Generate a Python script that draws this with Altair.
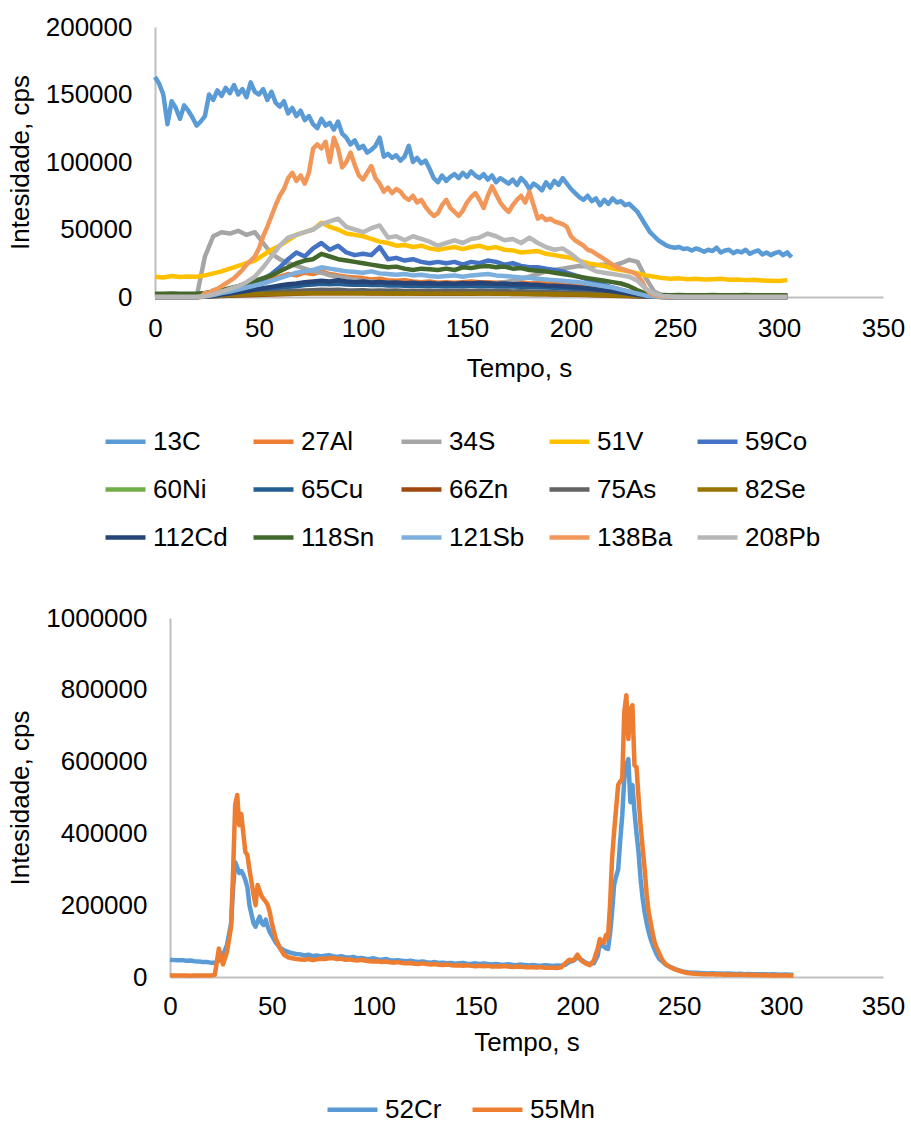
import altair as alt
import pandas as pd

FONT = "Liberation Sans"
FS = 26

# ---------------- upper panel: 15 isotopes, intensity vs time ----------------
TOP_NAMES = ["13C", "27Al", "34S", "51V", "59Co", "60Ni", "65Cu", "66Zn",
             "75As", "82Se", "112Cd", "118Sn", "121Sb", "138Ba", "208Pb"]
TOP_COLORS = ["#5B9BD5", "#ED7D31", "#A5A5A5", "#FFC000", "#4472C4", "#70AD47",
              "#255E91", "#9E480E", "#636363", "#997300", "#264478", "#43682B",
              "#7CAFDD", "#F1975A", "#B7B7B7"]

FINE_STEP = 2    # s between readings for 13C and 138Ba
COARSE_STEP = 4  # s between readings for the other isotopes

C13 = [163000, 158000, 150000, 128000, 145000, 140000, 132000, 142000, 138000, 133000,
       127000, 130000, 134000, 150000, 146000, 153000, 149000, 155000, 151000, 157000,
       150000, 154000, 148000, 159000, 152000, 150000, 154000, 146000, 152000, 144000,
       141000, 145000, 136000, 140000, 134000, 138000, 131000, 134000, 128000, 125000,
       132000, 127000, 129000, 124000, 130000, 121000, 118000, 113000, 116000, 110000,
       112000, 107000, 109000, 112000, 118000, 104000, 106000, 103000, 105000, 101000,
       104000, 112000, 100000, 103000, 99000, 101000, 95000, 88000, 85000, 90000,
       86000, 89000, 91000, 88000, 92000, 89000, 93000, 90000, 88000, 91000,
       87000, 90000, 85000, 88000, 86000, 84000, 87000, 83000, 88000, 85000,
       80000, 84000, 82000, 79000, 85000, 81000, 86000, 83000, 88000, 84000,
       80000, 77000, 74000, 72000, 75000, 71000, 73000, 68000, 72000, 69000,
       73000, 70000, 71000, 68000, 69000, 66000, 63000, 58000, 53000, 48000,
       45000, 42000, 40000, 38000, 37000, 36500, 37000, 35500, 36000, 34500,
       36000, 35000, 33500, 35000, 34000, 36500, 33000, 34500, 35000, 32500,
       34000, 33000, 35000, 32000, 33500, 34500, 31500, 33000, 31000, 32500,
       33500, 31000, 33000, 29500]

BA138 = [0, 0, 0, 0, 0, 0, 0, 0, 0, 0,
         0, 0, 3000, 3000, 5000, 6000, 8000, 10000, 12000, 14000,
         17000, 20000, 24000, 27000, 30000, 36000, 45000, 52000, 60000, 68000,
         75000, 80000, 88000, 92000, 86000, 90000, 84000, 92000, 110000, 113000,
         110000, 115000, 100000, 118000, 110000, 96000, 100000, 107000, 98000, 90000,
         87000, 92000, 97000, 88000, 84000, 78000, 81000, 77000, 80000, 78000,
         74000, 72000, 75000, 70000, 72000, 67000, 63000, 60000, 62000, 68000,
         72000, 66000, 63000, 60000, 64000, 70000, 74000, 77000, 72000, 66000,
         75000, 82000, 76000, 70000, 66000, 63000, 68000, 72000, 75000, 70000,
         78000, 68000, 58000, 60000, 57000, 58000, 56000, 55000, 54000, 52000,
         45000, 42000, 40000, 38000, 35000, 34000, 32000, 30000, 28000, 26000,
         24000, 22000, 21000, 20000, 19000, 18000, 16000, 12000, 6000, 3000,
         1500, 800, 400, 200, 0, 0, 0, 0, 0, 0,
         0, 0, 0, 0, 0, 0, 0, 0, 0, 0,
         0, 0, 0, 0, 0, 0, 0, 0, 0, 0,
         0, 0, 0]

V51 = [15000, 14500, 15500, 14800, 15200, 15000, 16000, 17500, 19000, 21000,
       23000, 25000, 27000, 31000, 35000, 38000, 42000, 46000, 48000, 50000,
       55000, 52000, 50000, 47000, 46000, 45000, 43000, 41000, 40000, 38000,
       38500, 37000, 38000, 36000, 35000, 36000, 37000, 35500, 37000, 38000,
       36000, 37000, 35000, 34500, 33000, 33500, 34000, 32000, 31000, 30000,
       29000, 27000, 25000, 24000, 23000, 21000, 20000, 19000, 17500, 16000,
       15000, 14000, 13500, 13800, 13200, 13500, 13000, 13200, 13500, 12800,
       13000, 12500, 12700, 12300, 12000, 11800, 12500]

PB208 = [0, 0, 0, 0, 0, 0, 500, 2000, 4000, 6000,
         8000, 11000, 15000, 22000, 30000, 38000, 44000, 46000, 48000, 50000,
         54000, 56000, 58000, 52000, 50000, 48000, 51000, 53000, 44000, 45000,
         42000, 45000, 43000, 41000, 38000, 40000, 42000, 40000, 43000, 44000,
         47000, 45000, 42000, 43000, 40000, 44000, 40000, 37000, 35000, 36000,
         32000, 27000, 22000, 19000, 18000, 17000, 16000, 15000, 12000, 6000,
         2500, 800, 300, 0, 0, 0, 0, 0, 0, 0,
         0, 0, 0, 0, 0, 0, 0]

S34 = [0, 0, 0, 0, 0, 0, 30000, 45000, 48000, 47000,
       49000, 46000, 48000, 40000, 32000, 28000, 25000, 23000, 21000, 19000,
       18000, 16000, 15000, 14000, 13000, 12000, 11500, 11000, 10500, 10000,
       9500, 9000, 9000, 8500, 8500, 8000, 8500, 8000, 8500, 9000,
       9500, 10000, 11000, 12000, 13500, 15000, 17000, 19000, 20000, 21000,
       22000, 23000, 22500, 23500, 24000, 23000, 25000, 27500, 26000, 14000,
       4000, 1000, 300, 0, 0, 0, 0, 0, 0, 0,
       0, 0, 0, 0, 0, 0, 0]

CO59 = [0, 0, 0, 0, 0, 0, 500, 1500, 3000, 4500,
        6000, 8000, 10000, 13000, 17000, 22000, 28000, 33000, 30000, 36000,
        40000, 35000, 38000, 33000, 31000, 32000, 31000, 37000, 28000, 29000,
        27000, 28000, 26000, 25000, 26000, 25000, 26000, 24000, 26000, 25000,
        27000, 26000, 24000, 25000, 23000, 22000, 22000, 21000, 20000, 19000,
        17000, 15000, 13000, 11000, 9000, 7000, 5000, 3500, 2000, 1000,
        300, 0, 0, 0, 0, 0, 0, 0, 0, 0,
        0, 0, 0, 0, 0, 0, 0]

SN118 = [2500, 2400, 2600, 2500, 2500, 2400, 3000, 4000, 5000, 6500,
         8000, 10000, 12000, 14000, 16000, 19000, 22000, 25000, 27000, 28000,
         32000, 30000, 28000, 27000, 26000, 25000, 24000, 23000, 22000, 22500,
         21000, 20000, 21000, 20500, 20000, 21000, 20000, 22000, 21500, 22500,
         23000, 22000, 22500, 21000, 21500, 20000, 19500, 19000, 18000, 17000,
         16000, 15000, 14000, 13000, 12000, 11000, 10000, 8000, 5000, 2500,
         1500, 1400, 1300, 1400, 1300, 1350, 1300, 1400, 1300, 1350,
         1300, 1400, 1300, 1250, 1350, 1300, 1300]

SB121 = [0, 0, 0, 0, 0, 0, 500, 1500, 3000, 4000,
         5500, 7000, 8500, 10000, 12000, 14000, 16000, 18000, 19000, 20000,
         22000, 21000, 20000, 19000, 18500, 18000, 19000, 17500, 17000, 16500,
         17000, 16000, 16500, 15500, 15000, 15500, 16000, 15000, 16000, 16500,
         17000, 16000, 15500, 15000, 14500, 14000, 13500, 13000, 12500, 12000,
         11500, 11000, 10000, 9000, 8000, 7000, 5500, 4000, 2500, 1000,
         400, 0, 0, 0, 0, 0, 0, 0, 0, 0,
         0, 0, 0, 0, 0, 0, 0]

AL27 = [0, 0, 0, 0, 0, 0, 500, 1500, 3000, 4000,
        5500, 7000, 9000, 11000, 13000, 15000, 17000, 16000, 18000, 17000,
        19000, 17000, 16000, 15000, 14500, 14000, 13000, 13500, 12500, 12000,
        12500, 11500, 11000, 11500, 10500, 11000, 10500, 11000, 11500, 11000,
        11000, 10500, 11000, 10500, 11000, 10000, 10500, 10000, 9500, 10000,
        9000, 9500, 9000, 8500, 8000, 7000, 5500, 4000, 2500, 1200,
        500, 0, 0, 0, 0, 0, 0, 0, 0, 0,
        0, 0, 0, 0, 0, 0, 0]

CU65 = [0, 0, 0, 0, 0, 0, 300, 800, 1500, 2200,
        3000, 3800, 4500, 5200, 6000, 6800, 7500, 8000, 8800, 9200,
        9800, 9500, 9800, 9300, 9000, 9200, 8800, 9000, 8500, 8700,
        8300, 8500, 8100, 8300, 8000, 8200, 7900, 8100, 8300, 8000,
        8200, 7800, 8000, 7700, 7500, 7600, 7200, 7000, 6800, 6500,
        6200, 5800, 5400, 5000, 4500, 3800, 3000, 2200, 1400, 700,
        300, 100, 0, 0, 0, 0, 0, 0, 0, 0,
        0, 0, 0, 0, 0, 0, 0]

CD112 = [0, 0, 0, 0, 0, 0, 400, 1000, 1800, 2600,
         3500, 4500, 5500, 6500, 7500, 8500, 9500, 10000, 11000, 11500,
         12000, 11500, 12500, 11500, 11000, 11500, 10800, 11200, 10500, 10800,
         10200, 10600, 10000, 10300, 9800, 10200, 9900, 10400, 10000, 10500,
         10200, 9800, 10000, 9500, 9700, 9200, 9000, 8600, 8400, 8000,
         7600, 7000, 6500, 5800, 5000, 4200, 3300, 2400, 1500, 800,
         300, 100, 0, 0, 0, 0, 0, 0, 0, 0,
         0, 0, 0, 0, 0, 0, 0]

AS75 = [0, 0, 0, 0, 0, 0, 200, 500, 900, 1300,
        1700, 2100, 2500, 3000, 3400, 3800, 4200, 4500, 4800, 5000,
        5300, 5100, 5400, 5000, 4800, 5000, 4700, 4900, 4600, 4800,
        4500, 4700, 4400, 4600, 4300, 4500, 4400, 4600, 4400, 4700,
        4500, 4300, 4400, 4100, 4200, 4000, 3900, 3700, 3600, 3400,
        3200, 3000, 2700, 2400, 2100, 1800, 1400, 1000, 600, 300,
        100, 0, 0, 0, 0, 0, 0, 0, 0, 0,
        0, 0, 0, 0, 0, 0, 0]

ZN66 = [200, 250, 200, 220, 180, 200, 300, 500, 700, 900,
        1100, 1300, 1500, 1700, 1900, 2100, 2300, 2400, 2600, 2700,
        2900, 2800, 3000, 2800, 2700, 2800, 2600, 2700, 2500, 2600,
        2500, 2600, 2400, 2500, 2400, 2500, 2400, 2500, 2400, 2600,
        2500, 2400, 2400, 2300, 2300, 2200, 2100, 2000, 1900, 1800,
        1700, 1600, 1400, 1300, 1100, 900, 700, 500, 350, 250,
        200, 200, 220, 180, 200, 210, 190, 200, 220, 200,
        190, 200, 210, 200, 190, 200, 210]

SE82 = [800, 900, 850, 800, 900, 850, 900, 1100, 1300, 1500,
        1700, 1900, 2000, 2200, 2300, 2400, 2500, 2600, 2700, 2800,
        2900, 2800, 2900, 2800, 2700, 2800, 2700, 2800, 2600, 2700,
        2600, 2700, 2600, 2500, 2600, 2500, 2600, 2500, 2600, 2500,
        2600, 2500, 2400, 2500, 2400, 2300, 2300, 2200, 2100, 2000,
        1900, 1800, 1700, 1500, 1400, 1200, 1100, 1000, 900, 850,
        800, 800, 820, 780, 800, 810, 790, 800, 820, 800,
        790, 800, 810, 800, 790, 800, 810]

NI60 = [1400, 1500, 1450, 1500, 1400, 1450, 1500, 1700, 1900, 2100,
        2300, 2500, 2700, 2900, 3100, 3300, 3500, 3600, 3700, 3800,
        4000, 3900, 4000, 3800, 3700, 3800, 3600, 3700, 3500, 3600,
        3500, 3400, 3500, 3300, 3400, 3300, 3400, 3300, 3400, 3300,
        3400, 3200, 3300, 3100, 3200, 3000, 2900, 2800, 2700, 2600,
        2400, 2300, 2100, 2000, 1800, 1700, 1600, 1500, 1400, 1300,
        1300, 1200, 1250, 1200, 1150, 1200, 1250, 1200, 1150, 1200,
        1200, 1250, 1200, 1150, 1200, 1250, 1200]

TOP_SERIES = [
    ("13C", C13, FINE_STEP), ("27Al", AL27, COARSE_STEP), ("34S", S34, COARSE_STEP),
    ("51V", V51, COARSE_STEP), ("59Co", CO59, COARSE_STEP), ("60Ni", NI60, COARSE_STEP),
    ("65Cu", CU65, COARSE_STEP), ("66Zn", ZN66, COARSE_STEP), ("75As", AS75, COARSE_STEP),
    ("82Se", SE82, COARSE_STEP), ("112Cd", CD112, COARSE_STEP), ("118Sn", SN118, COARSE_STEP),
    ("121Sb", SB121, COARSE_STEP), ("138Ba", BA138, FINE_STEP), ("208Pb", PB208, COARSE_STEP),
]

# ---------------- lower panel: 52Cr and 55Mn ----------------
BOT_NAMES = ["52Cr", "55Mn"]
BOT_COLORS = ["#5B9BD5", "#ED7D31"]

# readings are denser around the two ablation peaks
BOT_T = (list(range(0, 30, 2)) + list(range(30, 50)) + list(range(50, 210, 2))
         + list(range(210, 245)) + list(range(246, 307, 2)))

CR52 = [48000, 47000, 46500, 47000, 45500, 46000, 44000, 43500, 42000, 41500, 40000, 39500, 45000, 60000, 90000,
        150000, 250000, 320000, 305000, 290000, 295000, 285000, 270000, 250000, 200000,
        175000, 150000, 140000, 155000, 168000, 150000, 145000, 160000, 140000, 125000,
        115000, 95000, 82000, 74000, 70000, 66000, 64000, 63000, 60000, 62000,
        58000, 60000, 57000, 59000, 61000, 58000, 56000, 58000, 55000, 54000,
        56000, 52000, 53000, 51000, 50000, 52000, 49000, 48000, 50000, 47000,
        46000, 47000, 45000, 44000, 45500, 43000, 42000, 43000, 41000, 40000,
        41500, 39000, 40000, 38500, 39000, 37000, 38000, 39000, 36500, 37000,
        38000, 36000, 37500, 36000, 35000, 36500, 35000, 34000, 35500, 34000,
        33000, 35000, 33500, 32000, 33500, 32000, 31500, 33000, 32000, 31000,
        32000, 31500, 34000, 42000, 45000, 55000, 48000, 40000, 36000, 38000,
        60000, 95000, 90000, 85000, 80000, 78000, 120000, 180000, 256000, 280000,
        300000, 380000, 450000, 552000, 590000, 607000, 487000, 535000, 460000, 400000,
        348000, 273000, 220000, 180000, 150000, 125000, 105000, 89000, 75000, 62000,
        52000, 46000, 42000, 36000, 32000,
        27000, 22000, 18000, 15000, 13000, 12000, 11500, 11000, 10500, 10000,
        10500, 9500, 10000, 9000, 9500, 9000, 8500, 9000, 8000, 8500,
        8000, 7500, 8000, 7500, 7000, 7500, 7000, 6500, 7000, 6500, 6000]

MN55 = [4000, 4500, 4000, 4200, 4000, 3800, 4100, 4000, 3900, 4000, 4200, 6000, 79000, 35000, 70000,
        140000, 300000, 480000, 507000, 423000, 454000, 400000, 348000, 340000, 300000,
        265000, 230000, 200000, 256000, 240000, 225000, 217000, 210000, 200000, 180000,
        150000, 105000, 80000, 62000, 55000, 52000, 50000, 49000, 48000, 50000,
        47000, 49000, 51000, 50000, 52000, 53000, 50000, 51000, 48000, 49000,
        47000, 46000, 48000, 45000, 44000, 43000, 44000, 42000, 43000, 41000,
        40000, 41500, 39000, 38000, 39000, 37000, 36500, 38000, 36000, 35000,
        36000, 34000, 33500, 35000, 33000, 32000, 33000, 31500, 32500, 31000,
        30000, 31500, 30000, 31000, 29500, 30000, 29000, 30500, 29000, 28000,
        29000, 28500, 27500, 28000, 27000, 26500, 27500, 26000, 25500, 26000,
        25000, 27000, 38000, 48000, 46000, 62000, 45000, 38000, 33000, 45000,
        80000, 106000, 100000, 95000, 117000, 110000, 200000, 329000, 404000, 470000,
        535000, 545000, 552000, 738000, 785000, 663000, 746000, 757000, 590000, 585000,
        500000, 423000, 360000, 301000, 230000, 180000, 150000, 120000, 95000, 80000,
        68000, 55000, 45000, 38000, 33000,
        26000, 21000, 17000, 14000, 11000, 10000, 9000, 8500, 8000, 7500,
        8000, 7000, 7500, 6500, 7000, 6500, 6000, 6500, 6000, 5500,
        6000, 5500, 5000, 5500, 5000, 4500, 5000, 4500, 4000, 4500, 4000]

# ---------------- long tables ----------------
top_rows = []
for name, vals, step in TOP_SERIES:
    for i, v in enumerate(vals):
        top_rows.append({"t": i * step, "v": v, "s": name})
top_df = pd.DataFrame(top_rows)

bot_rows = []
for name, vals in (("52Cr", CR52), ("55Mn", MN55)):
    for t, v in zip(BOT_T, vals):
        bot_rows.append({"t": t, "v": v, "s": name})
bot_df = pd.DataFrame(bot_rows)

X_TICKS = [0, 50, 100, 150, 200, 250, 300, 350]
PLOT_W = 728     # both panels share the right edge
BOT_INSET = 15   # lower panel's axes start a little further right
LINE_W = 4.5


def legend(columns, x, y, sym, col_pad, row_pad):
    return alt.Legend(title=None, orient="none", legendX=x, legendY=y, columns=columns,
                      direction="horizontal",
                      symbolType="stroke", symbolSize=sym, symbolStrokeWidth=LINE_W,
                      labelFontSize=FS, labelFont=FONT, labelColor="black",
                      labelOffset=5, columnPadding=col_pad, rowPadding=row_pad,
                      gridAlign="all", labelLimit=300)


top = alt.Chart(top_df).mark_line(strokeWidth=LINE_W, strokeJoin="round").encode(
    x=alt.X("t:Q", scale=alt.Scale(domain=[0, 350], nice=False),
            axis=alt.Axis(title="Tempo, s", values=X_TICKS, labelPadding=18, titlePadding=14,
                          labelFlush=False)),
    y=alt.Y("v:Q", scale=alt.Scale(domain=[0, 200000], nice=False),
            axis=alt.Axis(title="Intesidade, cps", values=[0, 50000, 100000, 150000, 200000],
                          format="d", labelPadding=23, titlePadding=12, labelFlush=False)),
    color=alt.Color("s:N", scale=alt.Scale(domain=TOP_NAMES, range=TOP_COLORS),
                    sort=TOP_NAMES, legend=legend(5, -52, 392, 1600, 15, 12)),
).properties(width=PLOT_W, height=270)

bottom = alt.Chart(bot_df).mark_line(strokeWidth=LINE_W, strokeJoin="round").encode(
    x=alt.X("t:Q", scale=alt.Scale(domain=[0, 350], nice=False, range=[BOT_INSET, PLOT_W]),
            axis=alt.Axis(title="Tempo, s", values=X_TICKS, labelPadding=16, titlePadding=10,
                          labelFlush=False)),
    y=alt.Y("v:Q", scale=alt.Scale(domain=[0, 1000000], nice=False),
            axis=alt.Axis(title="Intesidade, cps",
                          values=[0, 200000, 400000, 600000, 800000, 1000000],
                          format="d", labelPadding=23, titlePadding=12, offset=-BOT_INSET,
                          labelFlush=False)),
    color=alt.Color("s:N", scale=alt.Scale(domain=BOT_NAMES, range=BOT_COLORS),
                    sort=BOT_NAMES, legend=legend(2, 170, 464, 2500, 12, 10)),
).properties(width=PLOT_W, height=359)

chart = alt.vconcat(top, bottom, spacing=54).resolve_scale(
    color="independent", x="independent", y="independent"
).properties(
    padding={"left": 7, "top": 14, "right": 5, "bottom": 0}
).configure_view(stroke=None).configure_axis(
    grid=False, ticks=False, tickSize=0,
    domainColor="#BFBFBF", domainWidth=2,
    labelFont=FONT, titleFont=FONT, labelFontSize=FS, titleFontSize=FS,
    labelColor="black", titleColor="black", titleFontWeight="normal",
)

chart.save("out.html", embed_options={"renderer": "svg", "actions": False})
